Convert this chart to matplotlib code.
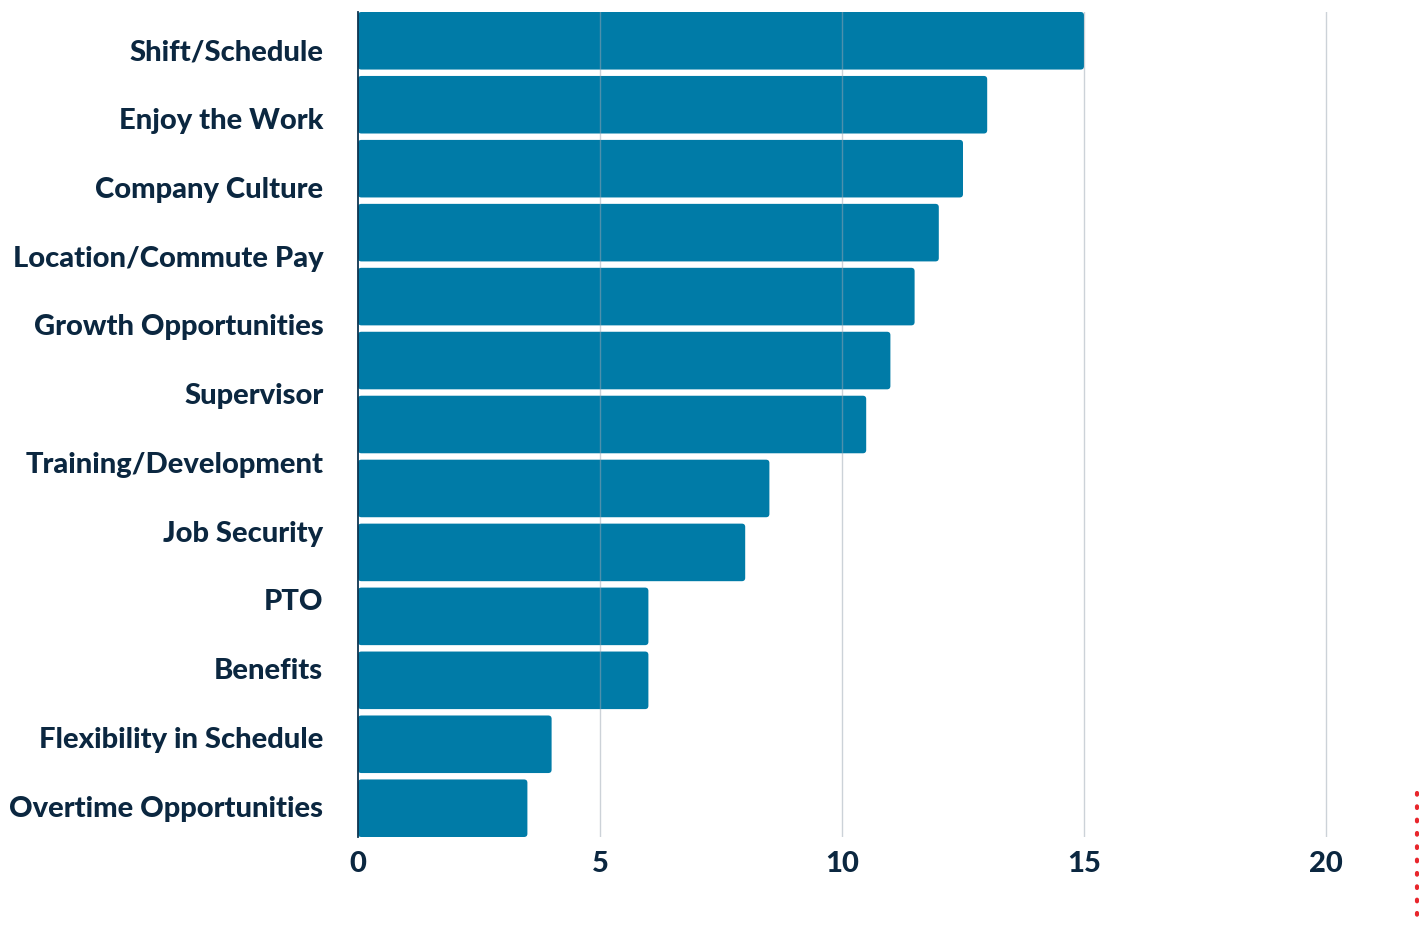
import matplotlib.pyplot as plt
from matplotlib.patches import FancyBboxPatch
from matplotlib.lines import Line2D

# survey answers, one bar each (top to bottom)
values = [15, 13, 12.5, 12, 11.5, 11, 10.5, 8.5, 8, 6, 6, 4, 3.5]
# labels shown down the left side
labels = ["Shift/Schedule", "Enjoy the Work", "Company Culture",
          "Location/Commute Pay", "Growth Opportunities", "Supervisor",
          "Training/Development", "Job Security", "PTO", "Benefits",
          "Flexibility in Schedule", "Overtime Opportunities"]
xticks = [0, 5, 10, 15, 20]

bar_color = "#007BA7"
text_color = "#0B2740"

plt.rcParams['font.family'] = ['Lato', 'DejaVu Sans']

fig = plt.figure(figsize=(14.19, 9.25), dpi=100)
ax = fig.add_axes([358 / 1419, 1 - 837 / 925, 1061 / 1419, 825 / 925])

ypos = list(range(len(values)))
bars = ax.barh(ypos, values, height=0.9, color=bar_color)

# swap the plain rectangles for ones with softly rounded ends
for rect in bars:
    rect.set_visible(False)
    fb = FancyBboxPatch((rect.get_x(), rect.get_y()), rect.get_width(), rect.get_height(),
                        boxstyle="round,pad=0,rounding_size=0.07",
                        mutation_aspect=0.74, facecolor=bar_color,
                        edgecolor="none", zorder=2)
    ax.add_patch(fb)

ax.set_xlim(0, 1061 / 48.4)
ax.set_ylim(len(values) - 0.55, -0.45)

# vertical gridlines sit on top of the bars
for x in xticks[1:]:
    ax.axvline(x, color="#9AA6B2", lw=1.0, alpha=0.5, zorder=3)

ax.set_xticks(xticks)
ax.set_xticklabels([str(t) for t in xticks], fontsize=21, fontweight="black",
                   color=text_color)
ax.tick_params(axis="x", length=0, pad=10)
ax.set_yticks([])

for s in ["top", "right", "bottom"]:
    ax.spines[s].set_visible(False)
ax.spines["left"].set_color("#0E3550")
ax.spines["left"].set_linewidth(1.3)
ax.spines["left"].set_zorder(4)

# category labels on their own evenly spaced scale
ax2 = ax.twinx()
ax2.set_ylim(len(labels) - 0.55, -0.55)
ax2.yaxis.tick_left()
ax2.set_yticks(range(len(labels)))
ax2.set_yticklabels(labels, fontsize=21, fontweight="black", color=text_color)
ax2.tick_params(axis="y", length=0, pad=25)
for s in ax2.spines.values():
    s.set_visible(False)

# red dotted edge marker in the bottom-right corner
fig.add_artist(Line2D([1417 / 1419, 1417 / 1419], [1 - 793 / 925, 0],
                      transform=fig.transFigure, color="#E8262C", lw=3,
                      linestyle=(0, (0.4, 2.8)), dash_capstyle="round"))

fig.savefig("out.png", dpi=100)
